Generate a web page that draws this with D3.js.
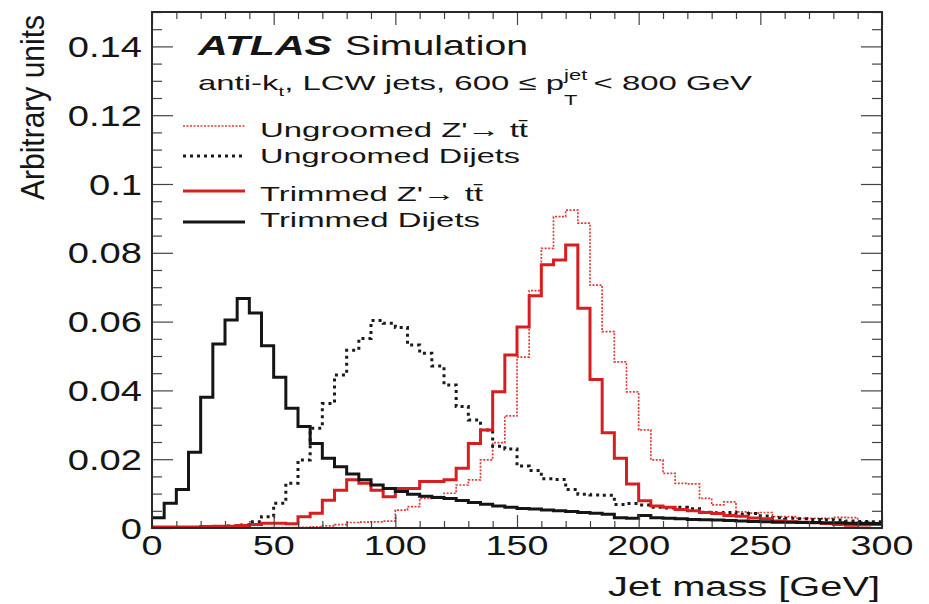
<!DOCTYPE html>
<html><head><meta charset="utf-8">
<script src="https://cdn.jsdelivr.net/npm/d3@7"></script>
<style>
body{margin:0;background:#fff}
text{font-family:"Liberation Sans",Arial,Helvetica,sans-serif;fill:#151515}
</style>
</head><body>
<svg id="c" width="929" height="604"></svg>
<script>
// ---- data (5 GeV bins, 0-300 GeV) ----
const binWidth = 5;
const ungroomedZprime = [0.0001,0.0001,0.0001,0.0001,0.0001,0.0001,0.0001,0.0001,0.0001,0.0001,
  0.0001,0.0001,0.0002,0.0003,0.0006,0.0010,0.0016,0.0017,0.0018,0.0020,
  0.0052,0.0062,0.0086,0.0091,0.0101,0.0125,0.0140,0.0198,0.0248,0.0326,
  0.0497,0.0690,0.0813,0.0905,0.0924,0.0886,0.0706,0.0571,0.0483,0.0396,
  0.0285,0.0198,0.0159,0.0130,0.0128,0.0086,0.0067,0.0076,0.0047,0.0043,
  0.0045,0.0033,0.0033,0.0028,0.0028,0.0028,0.0031,0.0030,0.0018,0.0016];
const ungroomedDijets = [0.0000,0.0000,0.0000,0.0001,0.0002,0.0003,0.0006,0.0009,0.0018,0.0033,
  0.0072,0.0130,0.0198,0.0290,0.0362,0.0445,0.0517,0.0551,0.0603,0.0595,
  0.0583,0.0532,0.0508,0.0471,0.0416,0.0353,0.0314,0.0285,0.0238,0.0230,
  0.0180,0.0167,0.0143,0.0141,0.0112,0.0098,0.0096,0.0095,0.0068,0.0071,
  0.0067,0.0060,0.0058,0.0060,0.0056,0.0046,0.0044,0.0045,0.0040,0.0042,
  0.0035,0.0030,0.0028,0.0027,0.0025,0.0024,0.0023,0.0020,0.0019,0.0018];
const trimmedZprime = [0.0003,0.0003,0.0003,0.0003,0.0004,0.0005,0.0005,0.0007,0.0010,0.0014,
  0.0014,0.0012,0.0033,0.0043,0.0081,0.0110,0.0140,0.0130,0.0110,0.0091,
  0.0115,0.0115,0.0135,0.0135,0.0140,0.0174,0.0246,0.0285,0.0396,0.0503,
  0.0584,0.0675,0.0765,0.0779,0.0823,0.0639,0.0432,0.0277,0.0203,0.0128,
  0.0079,0.0064,0.0060,0.0054,0.0050,0.0045,0.0042,0.0036,0.0034,0.0029,
  0.0027,0.0020,0.0018,0.0017,0.0015,0.0013,0.0010,0.0008,0.0009,0.0010];
const trimmedDijets = [0.0030,0.0072,0.0112,0.0220,0.0380,0.0535,0.0605,0.0667,0.0625,0.0530,
  0.0438,0.0348,0.0295,0.0246,0.0203,0.0178,0.0157,0.0140,0.0125,0.0115,
  0.0106,0.0098,0.0092,0.0089,0.0086,0.0080,0.0074,0.0069,0.0064,0.0060,
  0.0057,0.0055,0.0052,0.0050,0.0048,0.0045,0.0043,0.0040,0.0030,0.0028,
  0.0036,0.0030,0.0028,0.0027,0.0025,0.0024,0.0023,0.0022,0.0020,0.0019,
  0.0018,0.0017,0.0017,0.0016,0.0016,0.0015,0.0015,0.0014,0.0013,0.0013];

const xTickValues = [0,50,100,150,200,250,300];
const xTickLabels = ["0","50","100","150","200","250","300"];
const yTickValues = [0,0.02,0.04,0.06,0.08,0.1,0.12,0.14];
const yTickLabels = ["0","0.02","0.04","0.06","0.08","0.1","0.12","0.14"];
const legendLabels = ["Ungroomed Z'\u2192 tt\u0304","Ungroomed Dijets","Trimmed Z'\u2192 tt\u0304","Trimmed Dijets"];
const xTitle = "Jet mass [GeV]";
const yTitle = "Arbitrary units";

// ---- layout ----
const svg = d3.select("#c");
const X0=152, X1=882, Y0=528, Y1=12;
const x = d3.scaleLinear().domain([0,300]).range([X0,X1]);
const y = d3.scaleLinear().domain([0,0.15]).range([Y0,Y1]);

const series = [
  {vals: ungroomedZprime, color:"#e03a3a", width:1.7, dash:"2,1.5"},
  {vals: ungroomedDijets, color:"#1a1a1a", width:3, dash:"3,4"},
  {vals: trimmedZprime, color:"#d81e1e", width:3, dash:null},
  {vals: trimmedDijets, color:"#151515", width:3, dash:null}
];

svg.append("clipPath").attr("id","clip").append("rect")
  .attr("x",X0).attr("y",Y1).attr("width",X1-X0).attr("height",Y0-Y1);

const line = d3.line().x(d=>x(d[0])).y(d=>y(d[1])).curve(d3.curveStepAfter);
series.forEach(s=>{
  const pts = s.vals.map((v,i)=>[i*binWidth, v]);
  pts.push([s.vals.length*binWidth, s.vals[s.vals.length-1]]);
  svg.append("path").attr("clip-path","url(#clip)")
    .attr("d", line(pts)).attr("fill","none")
    .attr("stroke", s.color).attr("stroke-width", s.width)
    .attr("stroke-dasharray", s.dash).attr("stroke-linejoin","miter");
});

// ---- ticks ----
const xMinor = d3.range(0,31).map(i=>i*10).filter(v=>v%50!==0);
const yMinor = d3.range(0,31).map(i=>+(i*0.005).toFixed(3)).filter(v=>Math.round(v*1000)%20!==0);
function tickGroup(axis, tx, ty){
  const g = svg.append("g").attr("transform",`translate(${tx},${ty})`).call(axis);
  g.select(".domain").remove();
  g.selectAll("line").attr("stroke","#444").attr("stroke-width",1.2);
  g.selectAll("text").remove();
}
tickGroup(d3.axisBottom(x).tickValues(xTickValues).tickSize(-13), 0, Y0);
tickGroup(d3.axisBottom(x).tickValues(xMinor).tickSize(-7), 0, Y0);
tickGroup(d3.axisTop(x).tickValues(xTickValues).tickSize(-13), 0, Y1);
tickGroup(d3.axisTop(x).tickValues(xMinor).tickSize(-7), 0, Y1);
tickGroup(d3.axisLeft(y).tickValues(yTickValues).tickSize(-21), X0, 0);
tickGroup(d3.axisLeft(y).tickValues(yMinor).tickSize(-10), X0, 0);
tickGroup(d3.axisRight(y).tickValues(yTickValues).tickSize(-21), X1, 0);
tickGroup(d3.axisRight(y).tickValues(yMinor).tickSize(-10), X1, 0);

svg.append("rect").attr("x",X0).attr("y",Y1).attr("width",X1-X0).attr("height",Y0-Y1)
  .attr("fill","none").attr("stroke","#2a2a2a").attr("stroke-width",2);

// ---- tick labels ----
xTickValues.forEach((v,i)=>{
  svg.append("text").attr("transform",`translate(${x(v)},555) scale(1.35,1)`)
    .attr("text-anchor","middle").style("font-size","28px").text(xTickLabels[i]);
});
yTickValues.forEach((v,i)=>{
  svg.append("text").attr("transform",`translate(142,${y(v)+10.5}) scale(1.27,1)`)
    .attr("text-anchor","end").style("font-size","30px").text(yTickLabels[i]);
});

// ---- axis titles ----
svg.append("text").attr("x",880).attr("y",596).attr("text-anchor","end")
  .attr("textLength",272).attr("lengthAdjust","spacingAndGlyphs")
  .style("font-size","27px").text(xTitle);
svg.append("text").attr("transform","translate(44,15) rotate(-90) scale(1,1.25)")
  .attr("text-anchor","end").attr("textLength",185).attr("lengthAdjust","spacingAndGlyphs")
  .style("font-size","26px").text(yTitle);

// ---- ATLAS label ----
svg.append("text").attr("x",198).attr("y",55).attr("textLength",134).attr("lengthAdjust","spacingAndGlyphs")
  .style("font-size","28px").style("font-weight","bold").style("font-style","italic").text("ATLAS");
svg.append("text").attr("x",345).attr("y",55).attr("textLength",183).attr("lengthAdjust","spacingAndGlyphs")
  .style("font-size","28px").text("Simulation");

// second line with sub/superscripts
const g2 = svg.append("g");
let cx = 0;
function piece(str, size, dy){
  const t = g2.append("text").attr("x",cx).attr("y",dy).style("font-size",size+"px").text(str);
  return t.node().getComputedTextLength();
}
cx += piece("anti-k",21,0);
cx += piece("t",13,6);
cx += piece(", LCW jets, 600 \u2264 p",21,0);
const wT = piece("T",14,15);
const wJ = piece("jet",14,-10);
cx += Math.max(wT,wJ) + 4;
cx += piece(" < 800 GeV",21,0);
g2.attr("transform",`translate(198,90) scale(${554/cx},1)`);

// ---- legend ----
const legY = [126,156,191,222];
const legBase = [137,163,201,227];
const legW = [268,260,223,220];
series.forEach((s,i)=>{
  svg.append("line").attr("x1",183).attr("x2",245).attr("y1",legY[i]).attr("y2",legY[i])
    .attr("stroke",s.color).attr("stroke-width",s.width).attr("stroke-dasharray",s.dash);
  svg.append("text").attr("x",260).attr("y",legBase[i]).attr("textLength",legW[i])
    .attr("lengthAdjust","spacingAndGlyphs").style("font-size","21px").text(legendLabels[i]);
});
</script>
</body></html>
